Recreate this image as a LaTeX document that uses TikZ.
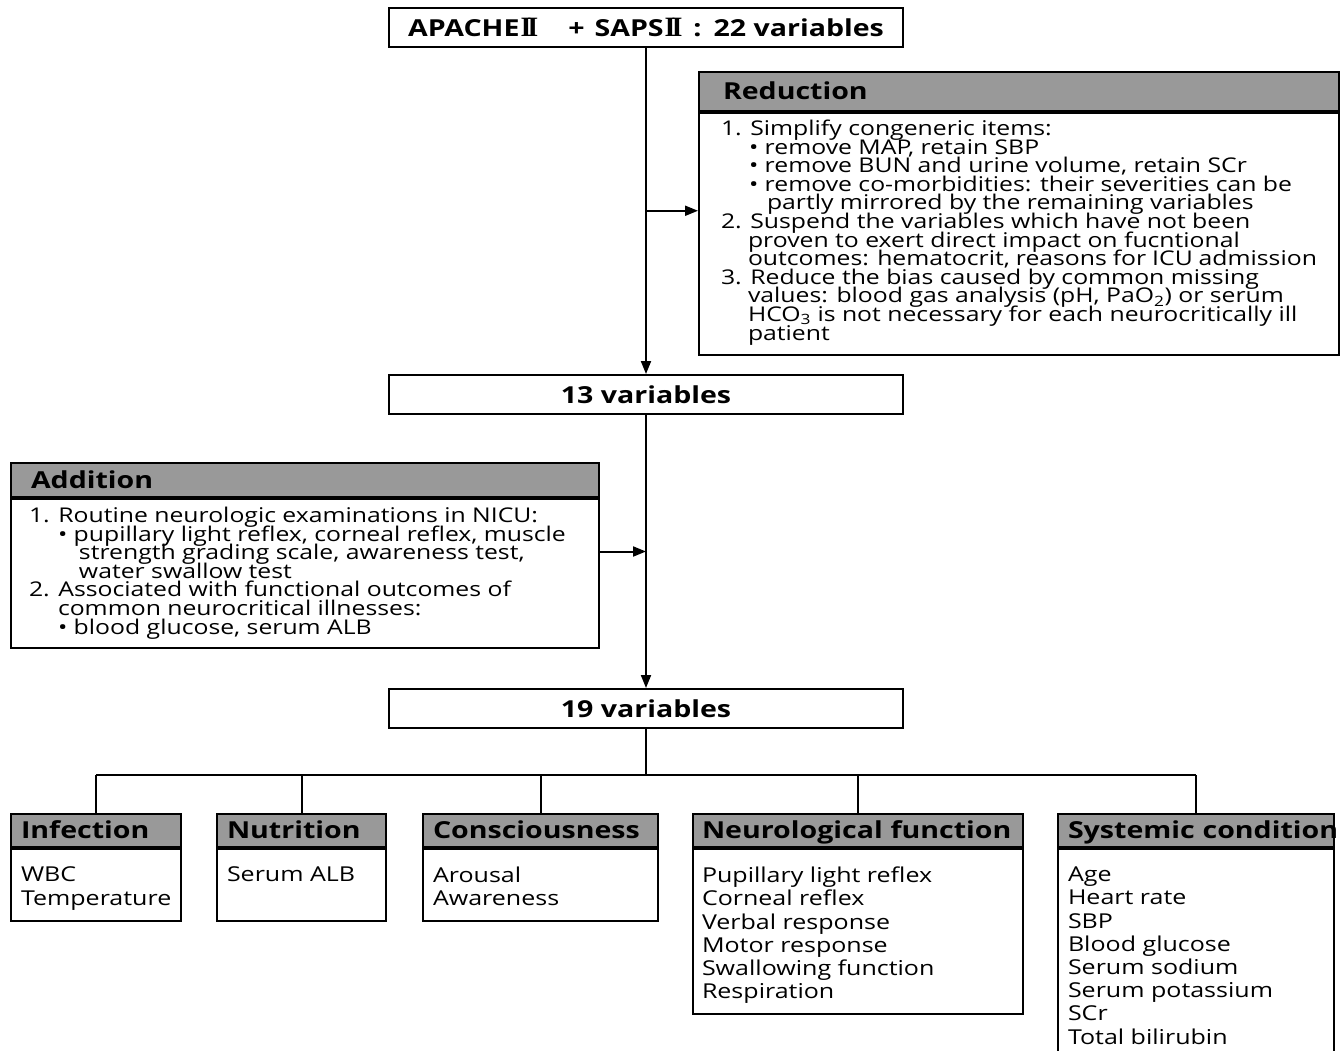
\documentclass[tikz,border=0pt]{standalone}
\usepackage{fontspec}
\setmainfont[FakeStretch=1.22]{Open Sans}
\newfontfamily\romanfont{Liberation Serif}
\newcommand{\romtwo}{{\romanfont\bfseries\fontsize{28}{28}\selectfont I\kern-4pt I}}
\newcommand{\listfont}{\fontsize{20.3}{18.6}\selectfont\lineskiplimit=-20pt}
\newcommand{\itemfont}{\fontsize{20.5}{23.2}\selectfont\lineskiplimit=-20pt}
\usetikzlibrary{positioning,calc,arrows.meta}

\begin{document}
\begin{tikzpicture}[x=1pt,y=1pt]
	\tikzstyle{mainbox}=[draw, line width=2pt, minimum width=514pt, minimum height=39pt, inner sep=0pt, font=\fontsize{23.4}{25}\selectfont\bfseries];
	\tikzstyle{headbox}=[draw, line width=2pt, fill=black!40, anchor=north west, inner xsep=10pt, inner ysep=0pt, text height=19pt, text depth=3pt, align=left, font=\fontsize{23.4}{25}\selectfont\bfseries];
	\tikzstyle{bodybox}=[draw, line width=2pt, anchor=north west, inner xsep=10pt, inner ysep=0pt, align=left, font=\itemfont];
	\tikzstyle{listbox}=[bodybox, font=\listfont];
	\tikzstyle{arrow}=[line width=2pt, -{Triangle[length=13pt,width=10pt]}];

	\useasboundingbox (0,0) rectangle (1341,-1050);

	% main chain
	\node[mainbox] (apache) at (646,-27) {APACHE\kern1pt\romtwo\hspace{30pt}+\hspace{10pt}SAPS\kern1pt\romtwo\hspace{11pt}:\hspace{12pt}22 variables};
	\node[mainbox] (v13) at (646,-394.5) {13 variables};
	\node[mainbox] (v19) at (646,-708.5) {19 variables};

	% reduction
	\node[headbox, text width=592pt, minimum height=39pt, inner xsep=24pt] (redhead) at (698,-71) {Reduction};
	\node[listbox, inner xsep=22pt] (redbody) at (redhead.south west)
		{\parbox[t][242pt][t]{596pt}{\listfont\vspace*{7pt}%
		1. Simplify congeneric items:\\
		\hspace*{28pt}• remove MAP, retain SBP\\
		\hspace*{28pt}• remove BUN and urine volume, retain SCr\\
		\hspace*{28pt}• remove co-morbidities: their severities can be\\
		\hspace*{46pt}partly mirrored by the remaining variables\\
		2. Suspend the variables which have not been\\
		\hspace*{27pt}proven to exert direct impact on fucntional\\
		\hspace*{27pt}outcomes: hematocrit, reasons for ICU admission\\
		3. Reduce the bias caused by common missing\\
		\hspace*{27pt}values: blood gas analysis (pH, PaO\textsubscript{2}) or serum\\
		\hspace*{27pt}HCO\textsubscript{3} is not necessary for each neurocritically ill\\
		\hspace*{27pt}patient}};

	% addition
	\node[headbox, text width=548pt, minimum height=34pt, inner xsep=20pt] (addhead) at (10,-462) {Addition};
	\node[listbox, inner xsep=18pt] (addbody) at (addhead.south west)
		{\parbox[t][149pt][t]{552pt}{\listfont\vspace*{8pt}%
		1. Routine neurologic examinations in NICU:\\
		\hspace*{29pt}• pupillary light reflex, corneal reflex, muscle\\
		\hspace*{50pt}strength grading scale, awareness test,\\
		\hspace*{50pt}water swallow test\\
		2. Associated with functional outcomes of\\
		\hspace*{29pt}common neurocritical illnesses:\\
		\hspace*{29pt}• blood glucose, serum ALB}};

	\coordinate (redmid) at ($(apache.south)!0.5!(v13.north)$);
	\coordinate (addmid) at ($(v13.south)!0.5!(v19.north)$);
	\draw[arrow] (apache) -- (v13);
	\draw[arrow] (redmid) -- (redmid -| redbody.west);
	\draw[arrow] (v13) -- (v19);
	\draw[arrow] (addbody.east |- addmid) -- (addmid);

	% categories
	\node[headbox, text width=150pt, minimum height=33pt] (infhead) at (10,-813) {Infection};
	\node[bodybox] (infbody) at (infhead.south west)
		{\parbox[t][72pt][t]{150pt}{\itemfont\vspace*{18pt}WBC\\Temperature}};
	\node[headbox, text width=149pt, minimum height=33pt] (nuthead) at (216,-813) {Nutrition};
	\node[bodybox] (nutbody) at (nuthead.south west)
		{\parbox[t][72pt][t]{149pt}{\itemfont\vspace*{18pt}Serum ALB}};
	\node[headbox, text width=215pt, minimum height=33pt] (conhead) at (422,-813) {Consciousness};
	\node[bodybox] (conbody) at (conhead.south west)
		{\parbox[t][72pt][t]{215pt}{\itemfont\vspace*{18pt}Arousal\\Awareness}};
	\node[headbox, text width=312pt, minimum height=33pt, inner xsep=9pt] (neuhead) at (692,-813) {Neurological function};
	\node[bodybox, inner xsep=9pt] (neubody) at (neuhead.south west)
		{\parbox[t][165pt][t]{312pt}{\itemfont\vspace*{18pt}Pupillary light reflex\\Corneal reflex\\Verbal response\\Motor response\\Swallowing function\\Respiration}};
	\node[headbox, text width=256pt, minimum height=33pt] (syshead) at (1057,-813) {\makebox[256pt][l]{Systemic condition}};
	\node[bodybox] (sysbody) at (syshead.south west)
		{\parbox[t][230pt][t]{256pt}{\itemfont\vspace*{18pt}Age\\Heart rate\\SBP\\Blood glucose\\Serum sodium\\Serum potassium\\SCr\\Total bilirubin}};

	\coordinate (fork) at ($(v19.south)+(0,-46)$);
	\draw[line width=2pt] (v19) -- (fork);
	\draw[line width=2pt] (infhead.north |- fork) -- (syshead.north |- fork);
	\foreach \n in {infhead, nuthead, conhead, neuhead, syshead}
		\draw[line width=2pt] (\n.north |- fork) -- (\n.north);
\end{tikzpicture}
\end{document}
